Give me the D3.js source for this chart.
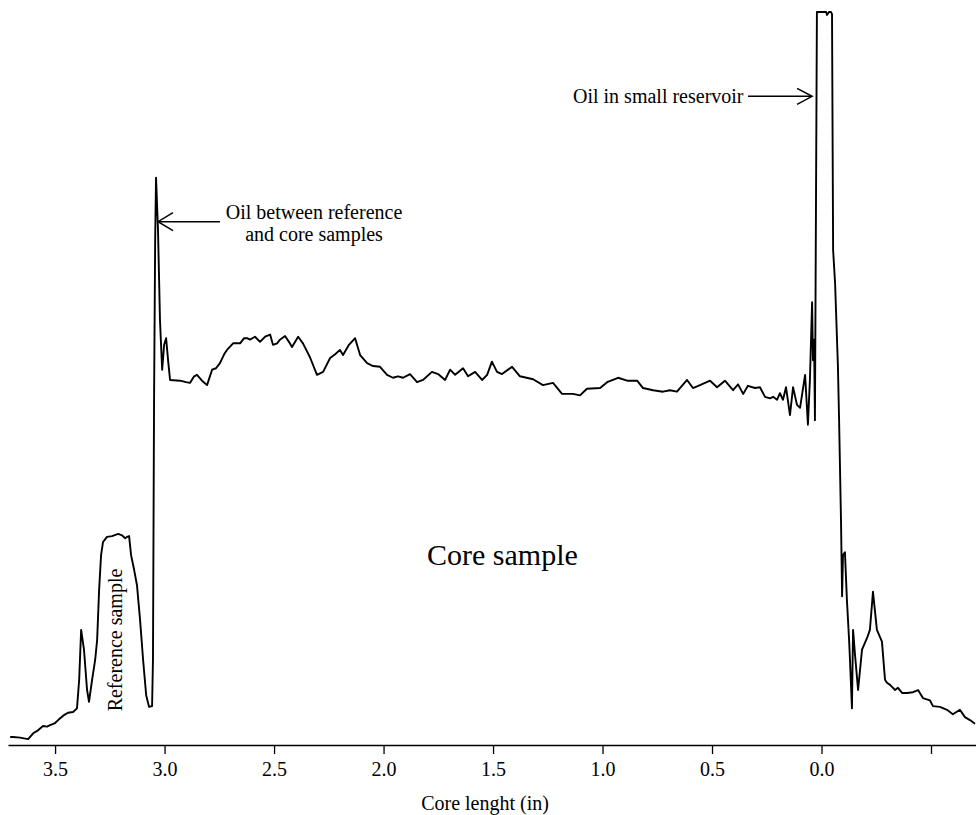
<!DOCTYPE html>
<html>
<head>
<meta charset="utf-8">
<script src="https://cdn.jsdelivr.net/npm/d3@7"></script>
<style>
  html, body { margin: 0; padding: 0; background: #fff; }
  svg { display: block; }
  text { font-family: "Liberation Serif", "Times New Roman", serif; fill: #000; }
</style>
</head>
<body>
<svg id="chart" width="976" height="815"></svg>
<script>
// ---- data ----
const coreLength = [3.705,3.692,3.660,3.623,3.600,3.578,3.555,3.537,3.523,3.500,3.486,3.463,3.441,3.418,3.400,3.390,3.381,3.368,3.354,3.345,3.331,3.317,3.308,3.299,3.290,3.281,3.263,3.240,3.212,3.194,3.180,3.171,3.162,3.153,3.139,3.126,3.112,3.098,3.084,3.071,3.057,3.053,3.048,3.043,3.039,3.030,3.021,3.011,3.002,2.993,2.984,2.975,2.929,2.902,2.884,2.865,2.852,2.829,2.806,2.783,2.765,2.747,2.728,2.715,2.687,2.655,2.637,2.623,2.610,2.587,2.564,2.541,2.518,2.505,2.486,2.473,2.450,2.432,2.418,2.390,2.368,2.336,2.304,2.276,2.244,2.221,2.199,2.185,2.158,2.130,2.107,2.075,2.048,2.016,1.984,1.957,1.934,1.911,1.879,1.847,1.820,1.779,1.751,1.719,1.696,1.673,1.637,1.614,1.582,1.550,1.527,1.505,1.482,1.459,1.413,1.377,1.317,1.272,1.226,1.185,1.135,1.103,1.071,1.011,0.979,0.929,0.888,0.842,0.815,0.769,0.724,0.692,0.660,0.614,0.587,0.555,0.509,0.477,0.441,0.404,0.381,0.358,0.336,0.304,0.281,0.258,0.235,0.221,0.203,0.190,0.176,0.162,0.144,0.130,0.112,0.098,0.075,0.062,0.053,0.043,0.039,0.034,0.030,0.021,-0.007,-0.021,-0.025,-0.034,-0.043,-0.048,-0.053,-0.062,-0.075,-0.080,-0.089,-0.094,-0.098,-0.107,-0.116,-0.126,-0.130,-0.139,-0.144,-0.153,-0.167,-0.185,-0.208,-0.221,-0.235,-0.253,-0.276,-0.290,-0.299,-0.313,-0.336,-0.349,-0.368,-0.390,-0.418,-0.441,-0.463,-0.495,-0.509,-0.541,-0.573,-0.600,-0.632,-0.655,-0.678,-0.701];

const signal = [1.1,1.1,1.0,0.8,1.6,2.0,2.6,2.5,2.7,3.0,3.4,4.0,4.4,4.5,5.0,8.9,15.7,13.0,7.5,5.9,8.9,11.6,14.3,21.1,25.9,27.7,28.4,28.5,28.8,28.6,28.2,28.4,28.5,25.9,23.9,21.8,17.1,11.6,6.8,5.2,5.3,11.6,47.1,68.9,77.4,70.3,58.0,51.2,54.6,55.5,52.5,49.8,49.7,49.5,49.4,50.3,50.5,49.7,49.1,51.2,51.4,52.1,53.3,53.9,54.8,54.8,55.5,55.5,55.3,55.7,55.0,55.7,56.0,54.6,54.8,55.3,55.8,55.0,54.3,55.7,54.8,52.9,50.5,50.9,52.8,53.3,53.9,53.2,54.6,55.5,53.2,52.1,51.7,51.6,50.5,50.1,50.3,50.1,50.6,49.5,49.8,50.9,50.6,49.8,51.2,50.5,51.4,50.3,50.9,49.8,50.5,52.3,50.9,50.6,51.6,50.3,49.9,49.1,49.4,47.9,47.9,47.7,48.6,48.7,49.5,50.1,49.7,49.7,48.7,48.4,48.2,48.4,48.2,49.8,48.7,49.1,49.7,48.8,49.7,48.4,49.2,47.9,49.0,48.7,48.8,47.5,47.3,47.5,47.1,48.0,47.1,48.8,45.0,48.8,46.4,46.0,50.5,43.7,49.8,60.4,52.5,55.3,44.3,100.0,100.0,100.0,99.6,100.0,100.0,99.7,67.5,63.0,51.6,44.7,30.7,20.3,25.9,26.3,19.8,14.3,11.6,5.0,15.7,12.3,7.5,13.0,14.6,15.7,20.9,15.7,14.1,8.9,8.5,8.2,7.5,7.8,7.1,7.1,7.2,7.5,6.4,6.1,5.3,5.2,4.8,4.2,4.8,3.8,3.4,2.9];

const tickValues = [3.5, 3.0, 2.5, 2.0, 1.5, 1.0, 0.5, 0.0, -0.5];
const tickLabels = ["3.5", "3.0", "2.5", "2.0", "1.5", "1.0", "0.5", "0.0", ""];

const annotations = [
  { lines: ["Oil between reference", "and core samples"], at: [3.030, 71.4] },
  { lines: ["Oil in small reservoir"], at: [0.043, 88.5] }
];

const xTitle = "Core lenght (in)";
const regionLabels = { core: "Core sample", reference: "Reference sample" };

// ---- chart ----
const svg = d3.select("#chart");
const x = d3.scaleLinear().domain([3.715, -0.7055]).range([8, 976]);
const y = d3.scaleLinear().domain([0, 100]).range([745, 12]);

const data = coreLength.map((d, i) => ({ x: d, v: signal[i] }));

const line = d3.line().x(d => x(d.x)).y(d => y(d.v));
svg.append("path")
  .datum(data)
  .attr("d", line)
  .attr("fill", "none")
  .attr("stroke", "#000")
  .attr("stroke-width", 1.9)
  .attr("stroke-linejoin", "round");

// axis
const axis = d3.axisBottom(x)
  .tickValues(tickValues)
  .tickFormat((d, i) => tickLabels[i])
  .tickSize(9)
  .tickSizeOuter(0)
  .tickPadding(8);
const gAxis = svg.append("g").attr("transform", `translate(0,${y(0)})`).call(axis);
gAxis.select(".domain").attr("stroke", "#000").attr("stroke-width", 1.6);
gAxis.selectAll(".tick line").attr("stroke", "#000").attr("stroke-width", 1.3);
gAxis.selectAll(".tick text")
  .style("font-family", '"Liberation Serif", serif')
  .style("font-size", "20px")
  .attr("fill", "#000");

svg.append("text")
  .attr("x", 485).attr("y", 810)
  .attr("text-anchor", "middle")
  .style("font-size", "20px")
  .text(xTitle);

// region labels
svg.append("text")
  .attr("x", 427).attr("y", 565)
  .style("font-size", "30px")
  .text(regionLabels.core);

svg.append("text")
  .attr("transform", "translate(122,640) rotate(-90)")
  .attr("text-anchor", "middle")
  .style("font-size", "20px")
  .text(regionLabels.reference);

// annotation 1: arrow pointing left to the peak
{
  const a = annotations[0];
  const tx = x(a.at[0]), ty = y(a.at[1]);
  const g = svg.append("g").attr("stroke", "#000").attr("stroke-width", 1.5).attr("fill", "none");
  g.append("line").attr("x1", 220).attr("y1", ty).attr("x2", tx).attr("y2", ty);
  g.append("path").attr("d", `M${tx + 15},${ty - 9}L${tx},${ty}L${tx + 15},${ty + 9}`);
  svg.append("text").attr("x", 314).attr("y", 219).attr("text-anchor", "middle")
    .style("font-size", "20px").text(a.lines[0]);
  svg.append("text").attr("x", 314).attr("y", 241).attr("text-anchor", "middle")
    .style("font-size", "20px").text(a.lines[1]);
}
// annotation 2: arrow pointing right to the reservoir peak
{
  const a = annotations[1];
  const tx = x(a.at[0]), ty = y(a.at[1]);
  const g = svg.append("g").attr("stroke", "#000").attr("stroke-width", 1.5).attr("fill", "none");
  g.append("line").attr("x1", 748).attr("y1", ty).attr("x2", tx).attr("y2", ty);
  g.append("path").attr("d", `M${tx - 15},${ty - 8}L${tx},${ty}L${tx - 15},${ty + 8}`);
  svg.append("text").attr("x", 573).attr("y", 103)
    .style("font-size", "20px").text(a.lines[0]);
}
</script>
</body>
</html>
